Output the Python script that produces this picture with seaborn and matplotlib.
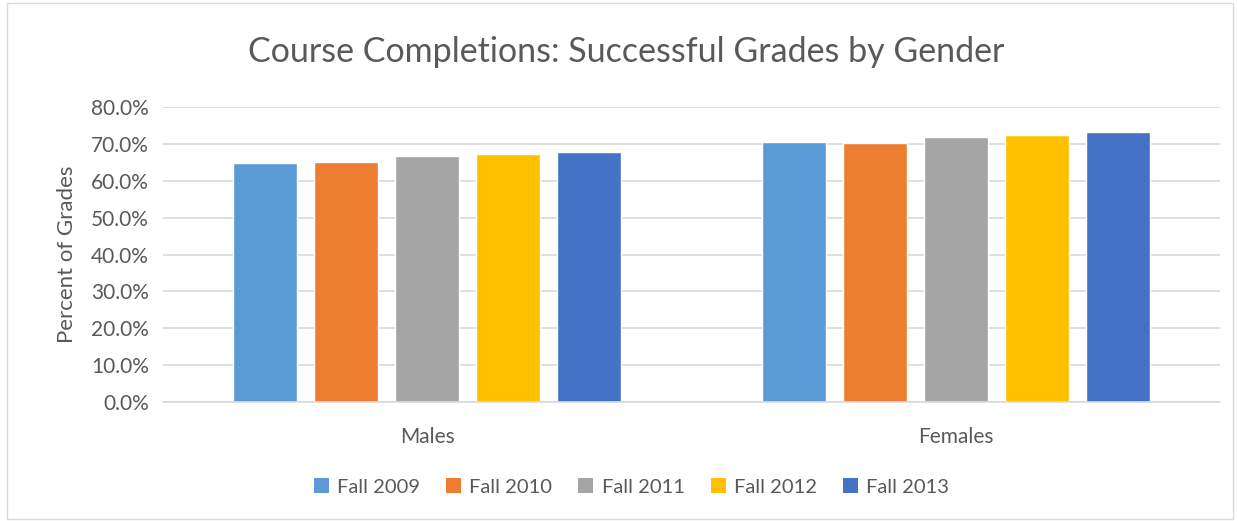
import numpy as np
import pandas as pd
import matplotlib
matplotlib.use("Agg")
import matplotlib.pyplot as plt
import seaborn as sns
from matplotlib.patches import Patch, Rectangle
from matplotlib.ticker import PercentFormatter

# values
genders = ["Males", "Females"]
terms = ["Fall 2009", "Fall 2010", "Fall 2011", "Fall 2012", "Fall 2013"]
males = [64.8, 65.1, 66.7, 67.3, 67.8]
females = [70.5, 70.3, 71.8, 72.5, 73.1]
colors = ["#5B9BD5", "#ED7D31", "#A5A5A5", "#FFC000", "#4472C4"]
y_ticks = [0, 10, 20, 30, 40, 50, 60, 70, 80]

TEXT = "#595959"
GRID = "#D9D9D9"

df = pd.DataFrame({
    "gender": np.repeat(genders, len(terms)),
    "term": terms * len(genders),
    "pct": males + females,
})

sns.set_style("white")
plt.rcParams["font.family"] = ["Lato", "DejaVu Sans"]

fig = plt.figure(figsize=(12.38, 5.21), dpi=100)
ax = fig.add_axes([0.1317, 0.2284, 0.8538, 0.5662])

sns.barplot(data=df, x="gender", y="pct", hue="term", order=genders,
            hue_order=terms, palette=colors, width=0.766, gap=0.21,
            saturation=1, legend=False, ax=ax)

ax.set_ylim(0, 80)
ax.set_yticks(y_ticks)
ax.yaxis.set_major_formatter(PercentFormatter(decimals=1))
ax.set_xlim(-0.5, 1.5)
ax.grid(axis="y", color=GRID, linewidth=1.2)
ax.set_axisbelow(True)
for side in ["top", "right", "left"]:
    ax.spines[side].set_visible(False)
ax.spines["bottom"].set_color(GRID)
ax.spines["bottom"].set_linewidth(1.2)
ax.tick_params(axis="both", length=0, colors=TEXT, labelsize=15, pad=10)
ax.tick_params(axis="x", pad=18)

ax.set_xlabel("")
ax.set_ylabel("Percent of Grades", fontsize=16, color=TEXT, labelpad=10)
fig.text(0.506, 0.90, "Course Completions: Successful Grades by Gender",
         ha="center", va="center", fontsize=24.5, color=TEXT)

handles = [Patch(facecolor=c, edgecolor="none") for c in colors]
fig.legend(handles, terms, loc="center", bbox_to_anchor=(0.51, 0.065),
           ncol=5, frameon=False, fontsize=14.5, labelcolor=TEXT,
           handlelength=0.75, handleheight=0.75, handletextpad=0.4,
           columnspacing=1.3)

# light border round the chart area
fig.patches.append(Rectangle((0.006, 0.004), 0.99, 0.99, transform=fig.transFigure,
                             fill=False, edgecolor=GRID, linewidth=1))

fig.savefig("out.png", dpi=100)
